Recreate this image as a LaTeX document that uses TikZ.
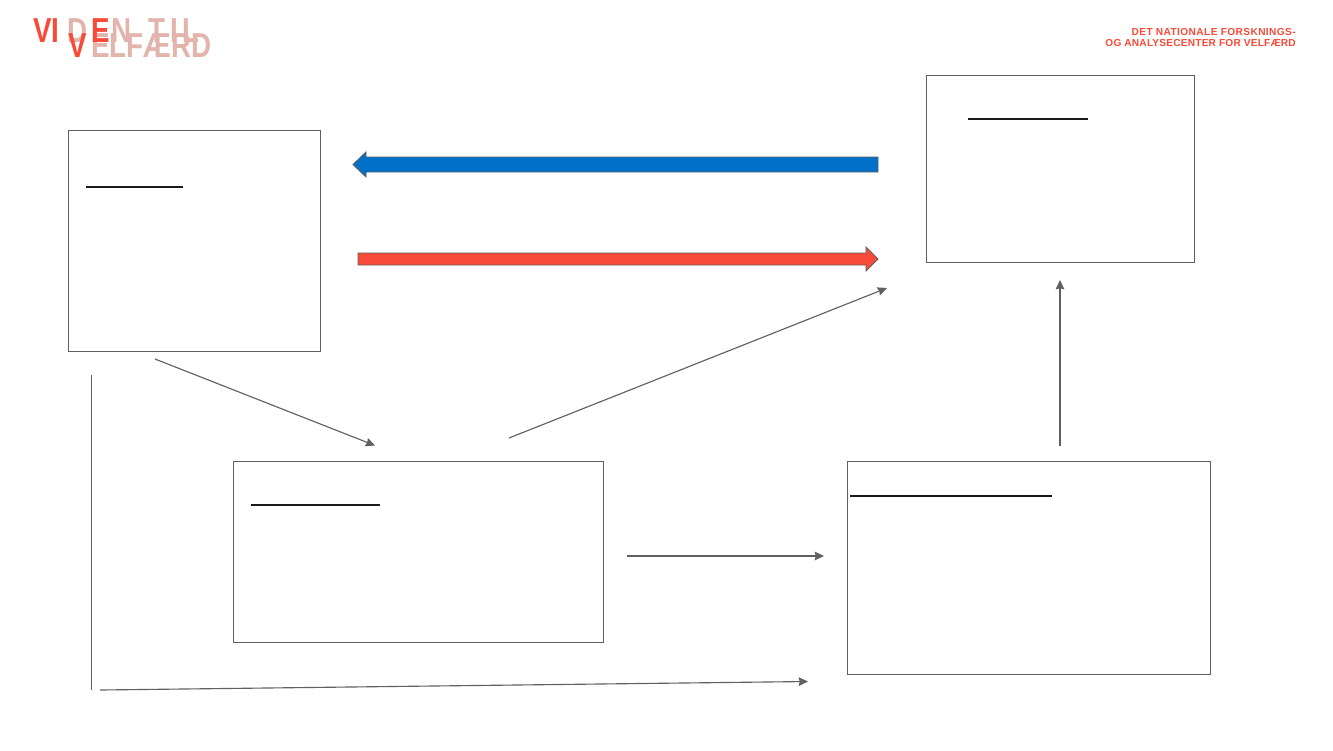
\documentclass[tikz,border=0pt]{standalone}
\usepackage{fontspec}
\setmainfont{Liberation Sans}
\newfontfamily\logofont[FakeStretch=0.8]{Liberation Sans}
\usetikzlibrary{arrows.meta,shapes.arrows}
\definecolor{edgegrey}{HTML}{606060}
\definecolor{vivired}{HTML}{F84A38}
\definecolor{vivipale}{HTML}{E2B4AC}
\definecolor{blockblue}{HTML}{0070C8}
\definecolor{ink}{HTML}{1A1A1A}
\tikzset{
  px/.style={x=0.75pt,y=-0.75pt},
  panel/.style={draw=edgegrey,line width=0.75pt,fill=white,rectangle,inner sep=0pt,anchor=north west},
  flow/.style={draw=edgegrey,line width=0.85pt,-{Stealth[length=7pt,width=6.5pt,inset=0.8pt]},shorten >=0pt},
  plainline/.style={draw=edgegrey,line width=0.8pt},
  heading/.style={draw=ink,line width=1.2pt},
  logosolid/.style={inner sep=0pt,anchor=base west,text=vivired,font=\logofont\fontsize{26pt}{26pt}\bfseries},
  logopale/.style={inner sep=0pt,anchor=base west,text=vivipale,font=\logofont\fontsize{26pt}{26pt}\bfseries},
  tagline/.style={inner sep=0pt,anchor=base east,text=vivired,font=\fontsize{7.6pt}{8pt}\bfseries},
  blockarrow/.style={draw=edgegrey,line width=0.7pt,line join=miter}
}
\begin{document}
\begin{tikzpicture}[px]
\useasboundingbox (0,0) rectangle (1333,750);
\fill[white] (0,0) rectangle (1333,750);
% logo
\node[logopale] (lD) at (67,42) {D};
\node[logopale] (lN) at (111,42) {N};
\node[logopale] (lTIL) at (148,42) {\addfontfeature{LetterSpace=14}TIL};
\node[logopale] (lELF) at (91,57) {ELFÆRD};
\node[logosolid] (lVI) at (33,42) {VI};
\node[logosolid] (lE) at (91,42) {E};
\node[logosolid] (lV) at (68,57) {V};
% tagline
\node[tagline] (t1) at (1296,35) {\addfontfeature{LetterSpace=4}DET NATIONALE FORSKNINGS-};
\node[tagline] (t2) at (1296,46.5) {\addfontfeature{LetterSpace=2}OG ANALYSECENTER FOR VELFÆRD};
% panels
\node[panel,minimum width=189pt,minimum height=165.75pt] (A) at (68,130) {};
\node[panel,minimum width=201pt,minimum height=140.25pt] (B) at (926,75) {};
\node[panel,minimum width=277.5pt,minimum height=135.75pt] (C) at (233,461) {};
\node[panel,minimum width=272.25pt,minimum height=159.75pt] (D) at (847,461) {};
% heading rules
\coordinate (ha1) at (86,187); \coordinate (ha2) at (183,187);
\coordinate (hb1) at (968,119); \coordinate (hb2) at (1088,119);
\coordinate (hc1) at (251,505); \coordinate (hc2) at (380,505);
\coordinate (hd1) at (850,496); \coordinate (hd2) at (1052,496);
\draw[heading] (ha1) -- (ha2);
\draw[heading] (hb1) -- (hb2);
\draw[heading] (hc1) -- (hc2);
\draw[heading] (hd1) -- (hd2);
% block arrows
\coordinate (b1) at (878,157); \coordinate (b2) at (366,157); \coordinate (b3) at (366,152);
\coordinate (b4) at (353,164.5); \coordinate (b5) at (366,177); \coordinate (b6) at (366,172); \coordinate (b7) at (878,172);
\draw[blockarrow,fill=blockblue] (b1) -- (b2) -- (b3) -- (b4) -- (b5) -- (b6) -- (b7) -- cycle;
\coordinate (r1) at (358,253); \coordinate (r2) at (866,253); \coordinate (r3) at (866,247);
\coordinate (r4) at (878,259); \coordinate (r5) at (866,271); \coordinate (r6) at (866,265); \coordinate (r7) at (358,265);
\draw[blockarrow,fill=vivired] (r1) -- (r2) -- (r3) -- (r4) -- (r5) -- (r6) -- (r7) -- cycle;
% connectors
\coordinate (c1s) at (155,359); \coordinate (c1e) at (375,445.5);
\coordinate (c2s) at (509,438); \coordinate (c2e) at (887,288);
\coordinate (c3s) at (1060,446); \coordinate (c3e) at (1060,280);
\coordinate (c4s) at (627,556); \coordinate (c4e) at (824,556);
\coordinate (c5s) at (100,690); \coordinate (c5e) at (808,681.5);
\coordinate (l1) at (91.5,375); \coordinate (l2) at (91.5,690);
\draw[flow] (c1s) -- (c1e);
\draw[flow] (c2s) -- (c2e);
\draw[flow] (c3s) -- (c3e);
\draw[flow] (c4s) -- (c4e);
\draw[flow] (c5s) -- (c5e);
\draw[plainline] (l1) -- (l2);
\end{tikzpicture}
\end{document}
